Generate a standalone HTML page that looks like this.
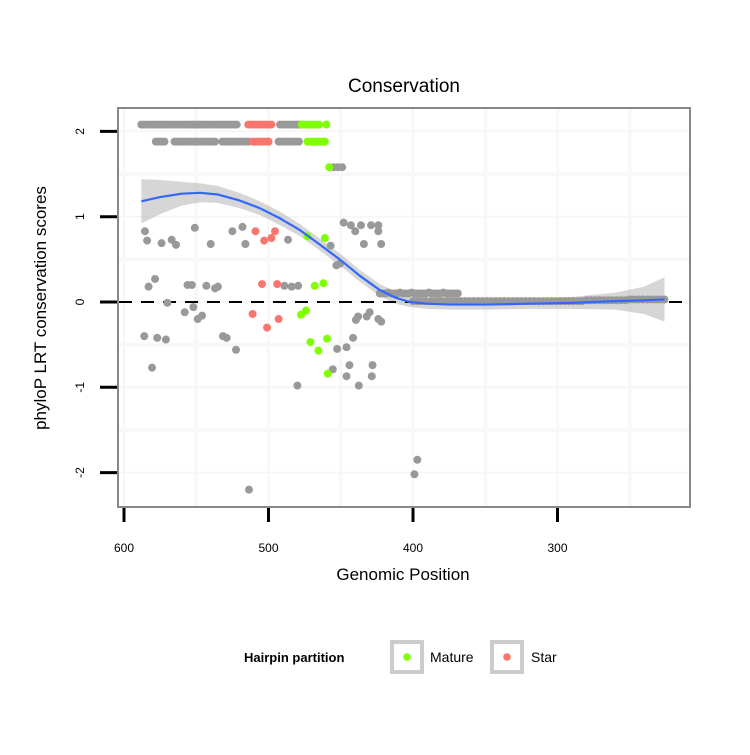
<!DOCTYPE html>
<html><head><meta charset="utf-8"><style>
body{margin:0;background:#fff;}
svg text{font-family:"Liberation Sans",sans-serif;}
</style></head><body>
<svg id="chart" width="750" height="750" xmlns="http://www.w3.org/2000/svg">
<rect width="750" height="750" fill="#fff"/>
<text x="404" y="92" font-size="19" text-anchor="middle">Conservation</text>
<g id="grid"></g>
<g id="band"></g>
<line x1="119" x2="689" y1="302" y2="302" stroke="#000" stroke-width="2" stroke-dasharray="13,9"/>
<g id="pts"></g>
<g id="smooth"></g>
<rect x="118" y="108" width="572" height="399" fill="none" stroke="#888" stroke-width="2"/>
<g id="axes"></g>
<text x="403" y="580" font-size="17" text-anchor="middle">Genomic Position</text>
<text transform="translate(46,308) rotate(-90)" font-size="17" text-anchor="middle">phyloP LRT conservation scores</text>
<g>
<text x="244" y="662" font-size="13" font-weight="bold">Hairpin partition</text>
<rect x="392" y="642" width="30" height="30" fill="#fff" stroke="#ccc" stroke-width="4"/>
<circle cx="407" cy="657" r="3.8" fill="#7FFF00"/>
<text x="430" y="662" font-size="14">Mature</text>
<rect x="492" y="642" width="30" height="30" fill="#fff" stroke="#ccc" stroke-width="4"/>
<circle cx="507" cy="657" r="3.8" fill="#F8766D"/>
<text x="531" y="662" font-size="14">Star</text>
</g>
</svg>
<script>
const xTicks=[600,500,400,300];
const yTicks=[2,1,0,-1,-2];
const xMinor=[550,450,350,250];
const yMinor=[1.5,0.5,-0.5,-1.5];
// gray points: top row (score 2.08)
const grayTopPos=[588,586,584,582,580,578,576,574,572,570,568,566,564,562,560,558,556,554,552,550,548,546,544,542,540,538,536,534,532,530,528,526,524,522,492,490,488,486,484,482,480,478];
const grayTopScore=[2.08,2.08,2.08,2.08,2.08,2.08,2.08,2.08,2.08,2.08,2.08,2.08,2.08,2.08,2.08,2.08,2.08,2.08,2.08,2.08,2.08,2.08,2.08,2.08,2.08,2.08,2.08,2.08,2.08,2.08,2.08,2.08,2.08,2.08,2.08,2.08,2.08,2.08,2.08,2.08,2.08,2.08];
// gray points: second row (score 1.88)
const graySecPos=[578,576,574,572,565,563,561,559,557,555,553,551,549,547,545,543,541,539,537,532,530,528,526,524,522,520,518,516,514,493,491,489,487,485,483,481,479];
const graySecScore=[1.88,1.88,1.88,1.88,1.88,1.88,1.88,1.88,1.88,1.88,1.88,1.88,1.88,1.88,1.88,1.88,1.88,1.88,1.88,1.88,1.88,1.88,1.88,1.88,1.88,1.88,1.88,1.88,1.88,1.88,1.88,1.88,1.88,1.88,1.88,1.88,1.88];
// gray scattered points
const grayPos=[455,452,449,
 585.5,584,574,567,564,551,540,525,518,516,486.5,457,453,450.5,448,443,440,436,429,424,424,434,422,
 583,578.5,556,553,543,537,535,489,484,479.5,
 570,558,552,549,546,586,577,571,580.6,531.5,529,522.5,455.5,452.5,446,441.5,444,446,437.5,428,428.5,480,513.5,399,397,
 439.5,430,424,438,432,422];
const grayScore=[1.58,1.58,1.58,
 0.83,0.72,0.69,0.73,0.67,0.87,0.68,0.83,0.88,0.68,0.73,0.66,0.43,0.45,0.93,0.9,0.83,0.9,0.9,0.9,0.83,0.68,0.68,
 0.18,0.27,0.2,0.2,0.19,0.16,0.18,0.19,0.18,0.19,
 -0.01,-0.12,-0.06,-0.2,-0.16,-0.4,-0.42,-0.44,-0.77,-0.4,-0.42,-0.56,-0.79,-0.55,-0.53,-0.42,-0.74,-0.87,-0.98,-0.74,-0.87,-0.98,-2.2,-2.02,-1.85,
 -0.21,-0.12,-0.2,-0.17,-0.17,-0.23];
// gray cluster near 0.1
const grayMidPos=[423,421,419,417,415,413,411,409,407,405,403,401,399,397,395,393,391,389,387,385,383,381,379,377,375,373,371,369];
const grayMidScore=[0.1,0.1,0.1,0.11,0.1,0.1,0.1,0.11,0.1,0.1,0.1,0.11,0.1,0.1,0.1,0.1,0.1,0.11,0.1,0.1,0.1,0.1,0.11,0.1,0.1,0.1,0.1,0.1];
// gray points along zero
const grayZeroPos=[400,397,394,391,388,385,382,379,376,373,370,367,364,361,358,355,352,349,346,343,340,337,334,331,328,325,322,319,316,313,310,307,304,301,298,295,292,289,286,283,280,277,274,271,268,265,262,259,256,253,250,247,244,241,238,235,232,229,226];
const grayZeroScore=[0.01,0.01,0.01,0.01,0.01,0.01,0.01,0.01,0.01,0.01,0.01,0.01,0.01,0.01,0.01,0.01,0.01,0.01,0.01,0.01,0.01,0.01,0.01,0.01,0.01,0.01,0.01,0.01,0.01,0.01,0.01,0.01,0.01,0.01,0.01,0.01,0.01,0.01,0.01,0.01,0.02,0.02,0.02,0.02,0.02,0.02,0.02,0.02,0.02,0.02,0.03,0.03,0.03,0.03,0.03,0.03,0.03,0.03,0.03];
const starPos=[514,512,510,508,506,504,502,500,498,511,509,507,505,503,501,500,509,503,498,495.5,504.5,494,511,493,501];
const starScore=[2.08,2.08,2.08,2.08,2.08,2.08,2.08,2.08,2.08,1.88,1.88,1.88,1.88,1.88,1.88,1.88,0.83,0.72,0.75,0.83,0.21,0.21,-0.14,-0.2,-0.3];
const maturePos=[477,475,473,471,469,467,465,460,473,471,469,467,465,463,461,458,473,461,468,462,474,477.5,471,459.5,465.5,459];
const matureScore=[2.08,2.08,2.08,2.08,2.08,2.08,2.08,2.08,1.88,1.88,1.88,1.88,1.88,1.88,1.88,1.58,0.77,0.75,0.19,0.22,-0.1,-0.15,-0.47,-0.43,-0.57,-0.84];
const fitPos=[588,575,560,547,535,520,506,492,478,465,450,437,423,412,402,390,374,350,320,290,260,240,226];
const fitScore=[1.18,1.23,1.27,1.28,1.26,1.19,1.1,0.98,0.84,0.68,0.49,0.31,0.14,0.05,0.0,-0.02,-0.03,-0.03,-0.02,-0.01,0.01,0.02,0.03];
const fitSe=[0.26,0.2,0.14,0.11,0.1,0.09,0.08,0.08,0.07,0.07,0.07,0.07,0.07,0.07,0.06,0.06,0.06,0.06,0.06,0.07,0.1,0.16,0.26];

const NS="http://www.w3.org/2000/svg";
const X=v=>124+(600-v)*1.445;
const Y=v=>302-v*85.3;
function mk(tag,attrs,parent){const e=document.createElementNS(NS,tag);for(const k in attrs)e.setAttribute(k,attrs[k]);document.getElementById(parent).appendChild(e);return e;}
xMinor.forEach(v=>{const l=mk('line',{x1:X(v),x2:X(v),y1:109,y2:506,stroke:'#f8f8f8','stroke-width':4},'grid');

});
xTicks.forEach(v=>{const l=mk('line',{x1:X(v),x2:X(v),y1:109,y2:506,stroke:'#f6f6f6','stroke-width':2},'grid');

});
yMinor.forEach(v=>{const l=mk('line',{x1:119,x2:689,y1:Y(v),y2:Y(v),stroke:'#f8f8f8','stroke-width':4},'grid');

});
yTicks.forEach(v=>{const l=mk('line',{x1:119,x2:689,y1:Y(v),y2:Y(v),stroke:'#f6f6f6','stroke-width':2},'grid');

});
let up=[],dn=[];
fitPos.forEach((p,i)=>{up.push(X(p)+','+Y(fitScore[i]+fitSe[i]));dn.unshift(X(p)+','+Y(fitScore[i]-fitSe[i]));});
const band=mk('polygon',{points:up.concat(dn).join(' '),fill:'#999','fill-opacity':0.4},'band');


function dots(pos,sc,col,name){pos.forEach((p,i)=>{const c=mk('circle',{cx:X(p),cy:Y(sc[i]),r:4,fill:col},'pts');

});}
dots(grayTopPos,grayTopScore,'#999999','point-other');
dots(graySecPos,graySecScore,'#999999','point-other');
dots(grayPos,grayScore,'#999999','point-other');
dots(grayMidPos,grayMidScore,'#999999','point-other');
dots(grayZeroPos,grayZeroScore,'#999999','point-other');
dots(starPos,starScore,'#F8766D','point-star');
dots(maturePos,matureScore,'#7FFF00','point-mature');
const line=mk('polyline',{points:fitPos.map((p,i)=>X(p)+','+Y(fitScore[i])).join(' '),fill:'none',stroke:'#3366FF','stroke-width':2.2,'stroke-linejoin':'round'},'smooth');


xTicks.forEach(v=>{const t=mk('line',{x1:X(v),x2:X(v),y1:508,y2:522,stroke:'#000','stroke-width':3},'axes');


const s=mk('text',{x:X(v),y:552,'font-size':12,'text-anchor':'middle'},'axes');s.textContent=v;

});
yTicks.forEach(v=>{const t=mk('line',{x1:100,x2:117,y1:Y(v),y2:Y(v),stroke:'#000','stroke-width':3},'axes');


const s=mk('text',{transform:`translate(84,${Y(v)}) rotate(-90)`,'font-size':12,'text-anchor':'middle'},'axes');s.textContent=v;

});
</script>
</body></html>
